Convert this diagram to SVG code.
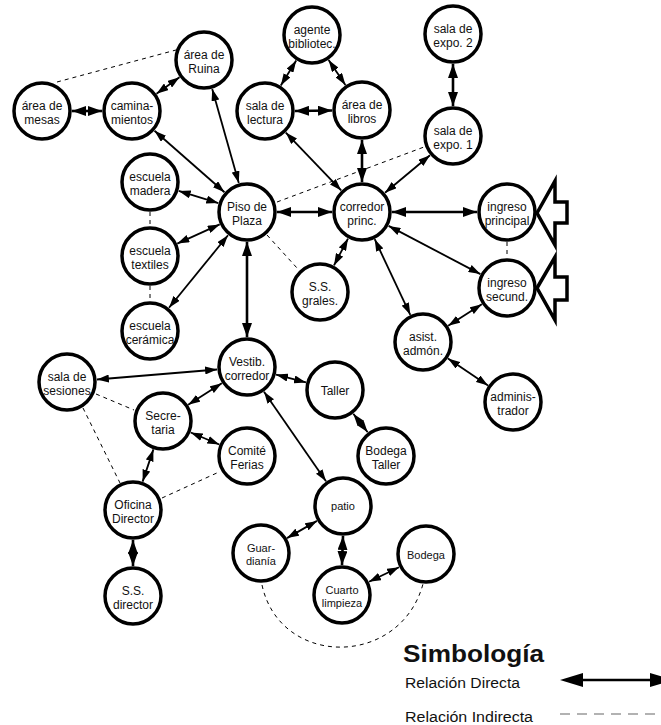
<svg xmlns="http://www.w3.org/2000/svg" width="661" height="725" viewBox="0 0 661 725">
<style>
.n circle{fill:#fff;stroke:#000;stroke-width:3.5}
.n text{font-family:"Liberation Sans",Arial,sans-serif;font-size:12px;fill:#111;text-anchor:middle}
.n text.s{font-size:11px}
.d{stroke:#000;stroke-width:1.8;fill:none;marker-start:url(#ah);marker-end:url(#ah)}
.t{stroke:#000;stroke-width:2.6;fill:none;marker-start:url(#ahb);marker-end:url(#ahb)}
.i{stroke:#000;stroke-width:1;fill:none;stroke-dasharray:4,4}
.ent{fill:#fff;stroke:#000;stroke-width:3.5;stroke-linejoin:miter}
.lg{font-family:"Liberation Sans",Arial,sans-serif;fill:#111}
</style>
<defs>
<marker id="ah" viewBox="0 0 12 8" refX="12" refY="4" markerWidth="12" markerHeight="8" markerUnits="userSpaceOnUse" orient="auto-start-reverse"><path d="M0,0 L12,4 L0,8 Z" fill="#000"/></marker>
<marker id="ahb" viewBox="0 0 14 10" refX="14" refY="5" markerWidth="14" markerHeight="10" markerUnits="userSpaceOnUse" orient="auto-start-reverse"><path d="M0,0 L14,5 L0,10 Z" fill="#000"/></marker>
</defs>
<g id="connectors">
<line class="t" x1="72" y1="111" x2="102" y2="111"/>
<line class="d" x1="156.5" y1="93.7" x2="179.5" y2="77.3"/>
<line class="d" x1="154.5" y1="130.8" x2="224.5" y2="192.2"/>
<line class="d" x1="212.2" y1="88.9" x2="238.8" y2="183.1"/>
<line class="d" x1="178.7" y1="190.9" x2="218.3" y2="203.1"/>
<line class="d" x1="177.3" y1="243.6" x2="219.7" y2="224.4"/>
<line class="d" x1="169" y1="307.7" x2="228" y2="235.3"/>
<line class="t" x1="277" y1="212" x2="332" y2="212"/>
<line class="t" x1="247" y1="242" x2="247" y2="337"/>
<line class="d" x1="296.2" y1="60.5" x2="280.8" y2="85.5"/>
<line class="d" x1="328.6" y1="60" x2="345.4" y2="85"/>
<line class="t" x1="295" y1="111" x2="332" y2="110.5"/>
<line class="d" x1="285.8" y1="132.6" x2="341.2" y2="190.4"/>
<line class="t" x1="362" y1="140" x2="362" y2="182"/>
<line class="t" x1="453" y1="64" x2="453" y2="106"/>
<line class="d" x1="430" y1="155.2" x2="385" y2="192.8"/>
<line class="t" x1="392" y1="212" x2="477" y2="212"/>
<line class="d" x1="348" y1="238.6" x2="334" y2="265.4"/>
<line class="d" x1="374.7" y1="239.2" x2="410.3" y2="314.8"/>
<line class="d" x1="388.6" y1="225.9" x2="480.4" y2="274.1"/>
<line class="d" x1="481.8" y1="304.2" x2="448.2" y2="325.8"/>
<line class="d" x1="448" y1="358.6" x2="488" y2="385.4"/>
<line class="d" x1="217.1" y1="369.5" x2="96.9" y2="379.5"/>
<line class="d" x1="221.8" y1="383.2" x2="188.2" y2="404.8"/>
<line class="d" x1="276" y1="374.6" x2="306" y2="382.4"/>
<line class="d" x1="264" y1="391.7" x2="326" y2="481.3"/>
<line class="d" x1="353.3" y1="413.7" x2="367.7" y2="432.3"/>
<line class="d" x1="190.7" y1="432.5" x2="219.3" y2="444.5"/>
<line class="d" x1="153.4" y1="449.4" x2="142.6" y2="481.6"/>
<line class="t" x1="133" y1="540" x2="133" y2="566"/>
<line class="d" x1="317" y1="520.9" x2="287" y2="538.1"/>
<line class="t" x1="343" y1="536" x2="342" y2="565"/>
<line class="d" x1="369" y1="581.8" x2="399" y2="567.2"/>
<line class="i" x1="57" y1="82" x2="176" y2="50"/>
<line class="i" x1="150" y1="212" x2="150" y2="226"/>
<line class="i" x1="150" y1="286" x2="150" y2="301"/>
<line class="i" x1="277" y1="202" x2="424" y2="147"/>
<line class="i" x1="267" y1="235" x2="297" y2="268"/>
<line class="i" x1="507" y1="242" x2="507" y2="258"/>
<line class="i" x1="96" y1="394" x2="134" y2="410"/>
<line class="i" x1="83" y1="408" x2="120" y2="483"/>
<line class="i" x1="162" y1="498" x2="219" y2="472"/>
<path class="i" d="M262,585 C280,668 400,668 423,584"/>
</g>
<g id="entrada-principal"><polygon class="ent" points="537,213 555,181 555,202 567,202 567,223 555,223 555,245"/></g>
<g id="entrada-secundaria"><polygon class="ent" points="537,288 555,257 555,277 567,277 567,300 555,300 555,320"/></g>
<g id="n-mesas" class="n"><circle cx="42" cy="111" r="28"/><text x="42" y="110">área de<tspan x="42" dy="14">mesas</tspan></text></g>
<g id="n-caminamientos" class="n"><circle cx="132" cy="111" r="28"/><text x="132" y="110">camina-<tspan x="132" dy="14">mientos</tspan></text></g>
<g id="n-ruina" class="n"><circle cx="204" cy="60" r="28"/><text x="204" y="59">área de<tspan x="204" dy="14">Ruina</tspan></text></g>
<g id="n-agente" class="n"><circle cx="312" cy="35" r="28"/><text x="312" y="34">agente<tspan x="312" dy="14">bibliotec.</tspan></text></g>
<g id="n-lectura" class="n"><circle cx="265" cy="111" r="28"/><text x="265" y="110">sala de<tspan x="265" dy="14">lectura</tspan></text></g>
<g id="n-libros" class="n"><circle cx="362" cy="110" r="28"/><text x="362" y="109">área de<tspan x="362" dy="14">libros</tspan></text></g>
<g id="n-expo2" class="n"><circle cx="453" cy="34" r="28"/><text x="453" y="33">sala de<tspan x="453" dy="14">expo. 2</tspan></text></g>
<g id="n-expo1" class="n"><circle cx="453" cy="136" r="28"/><text x="453" y="135">sala de<tspan x="453" dy="14">expo. 1</tspan></text></g>
<g id="n-madera" class="n"><circle cx="150" cy="182" r="28"/><text x="150" y="181">escuela<tspan x="150" dy="14">madera</tspan></text></g>
<g id="n-piso" class="n"><circle cx="247" cy="212" r="28"/><text x="247" y="211">Piso de<tspan x="247" dy="14">Plaza</tspan></text></g>
<g id="n-corredor" class="n"><circle cx="362" cy="212" r="28"/><text x="362" y="211">corredor<tspan x="362" dy="14">princ.</tspan></text></g>
<g id="n-ingreso-principal" class="n"><circle cx="507" cy="212" r="28"/><text x="507" y="211">ingreso<tspan x="507" dy="14">principal</tspan></text></g>
<g id="n-ingreso-secund" class="n"><circle cx="507" cy="288" r="28"/><text x="507" y="287">ingreso<tspan x="507" dy="14">secund.</tspan></text></g>
<g id="n-textiles" class="n"><circle cx="150" cy="256" r="28"/><text x="150" y="255">escuela<tspan x="150" dy="14">textiles</tspan></text></g>
<g id="n-ceramica" class="n"><circle cx="150" cy="331" r="28"/><text x="150" y="330">escuela<tspan x="150" dy="14">cerámica</tspan></text></g>
<g id="n-ssgrales" class="n"><circle cx="320" cy="292" r="28"/><text x="320" y="291">S.S.<tspan x="320" dy="14">grales.</tspan></text></g>
<g id="n-asist" class="n"><circle cx="423" cy="342" r="28"/><text x="423" y="341">asist.<tspan x="423" dy="14">admón.</tspan></text></g>
<g id="n-admin" class="n"><circle cx="513" cy="402" r="28"/><text x="513" y="401">adminis-<tspan x="513" dy="14">trador</tspan></text></g>
<g id="n-vestib" class="n"><circle cx="247" cy="367" r="28"/><text x="247" y="366">Vestib.<tspan x="247" dy="14">corredor</tspan></text></g>
<g id="n-sesiones" class="n"><circle cx="67" cy="382" r="28"/><text x="67" y="381">sala de<tspan x="67" dy="14">sesiones</tspan></text></g>
<g id="n-secretaria" class="n"><circle cx="163" cy="421" r="28"/><text x="163" y="420">Secre-<tspan x="163" dy="14">taria</tspan></text></g>
<g id="n-taller" class="n"><circle cx="335" cy="390" r="28"/><text x="335" y="395">Taller</text></g>
<g id="n-bodega-taller" class="n"><circle cx="386" cy="456" r="28"/><text x="386" y="455">Bodega<tspan x="386" dy="14">Taller</tspan></text></g>
<g id="n-comite" class="n"><circle cx="247" cy="456" r="28"/><text x="247" y="455">Comité<tspan x="247" dy="14">Ferias</tspan></text></g>
<g id="n-oficina" class="n"><circle cx="133" cy="510" r="28"/><text x="133" y="509">Oficina<tspan x="133" dy="14">Director</tspan></text></g>
<g id="n-ssdirector" class="n"><circle cx="133" cy="596" r="28"/><text x="133" y="595">S.S.<tspan x="133" dy="14">director</tspan></text></g>
<g id="n-patio" class="n"><circle cx="343" cy="506" r="28"/><text class="s" x="343" y="510">patio</text></g>
<g id="n-guardiania" class="n"><circle cx="261" cy="553" r="28"/><text class="s" x="261" y="552">Guar-<tspan x="261" dy="13">dianía</tspan></text></g>
<g id="n-cuarto" class="n"><circle cx="342" cy="595" r="28"/><text class="s" x="342" y="594">Cuarto<tspan x="342" dy="13">limpieza</tspan></text></g>
<g id="n-bodega" class="n"><circle cx="426" cy="554" r="28"/><text class="s" x="426" y="559">Bodega</text></g>
<g id="legend">
<text class="lg" x="403" y="662" font-size="24" font-weight="bold" textLength="141" lengthAdjust="spacingAndGlyphs">Simbología</text>
<text class="lg" x="405" y="688" font-size="14" textLength="115" lengthAdjust="spacingAndGlyphs">Relación Directa</text>
<text class="lg" x="405" y="722" font-size="14" textLength="128" lengthAdjust="spacingAndGlyphs">Relación Indirecta</text>
<line x1="578" y1="680" x2="655" y2="680" stroke="#000" stroke-width="2.5"/>
<polygon points="560,680 583,673 583,687" fill="#000"/>
<polygon points="673,680 650,673 650,687" fill="#000"/>
<line x1="560" y1="714" x2="661" y2="714" stroke="#999" stroke-width="1.5" stroke-dasharray="10,7"/>
</g>
</svg>
